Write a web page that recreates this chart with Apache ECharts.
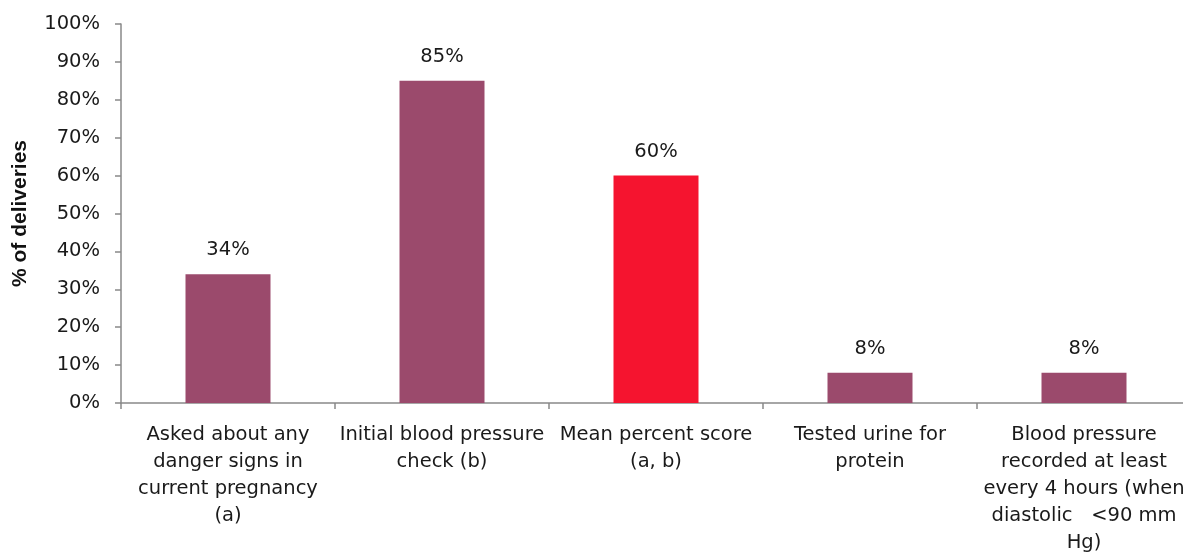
<!DOCTYPE html>
<html><head><meta charset="utf-8">
<script src="https://cdn.jsdelivr.net/npm/echarts@6/dist/echarts.min.js"></script>
<style>html,body{margin:0;padding:0;background:#fff}#c{width:1183px;height:553px}</style>
</head><body><div id="c"></div>
<script>
const categories = [
  "Asked about any\ndanger signs in\ncurrent pregnancy\n(a)",
  "Initial blood pressure\ncheck (b)",
  "Mean percent score\n(a, b)",
  "Tested urine for\nprotein",
  "Blood pressure\nrecorded at least\nevery 4 hours (when\ndiastolic   <90 mm\nHg)"
];
const values = [34, 85, 60, 8, 8];
const highlightIndex = 2;
const yTitle = "% of deliveries";

const font = "DejaVu Sans";
const chart = echarts.init(document.getElementById('c'));
chart.setOption({
  animation: false,
  grid: { left: 121, top: 24, bottom: 150, width: 1070, containLabel: false, outerBoundsMode: 'none' },
  xAxis: {
    type: 'category', data: categories,
    axisLine: { lineStyle: { color: '#898989', width: 1.5 } },
    axisTick: { show: true, length: 6, lineStyle: { color: '#898989', width: 1.5 } },
    axisLabel: { interval: 0, color: '#1a1a1a', fontFamily: font, fontSize: 19.5, lineHeight: 27, margin: 18 }
  },
  yAxis: {
    type: 'value', min: 0, max: 100, interval: 10,
    name: yTitle, nameLocation: 'middle', nameGap: 90, nameRotate: 90,
    nameTextStyle: { color: '#111', fontFamily: "Liberation Sans", fontSize: 21, fontWeight: 'bold' },
    axisLine: { show: true, lineStyle: { color: '#898989', width: 1.5 } },
    axisTick: { show: true, length: 6, lineStyle: { color: '#898989', width: 1.5 } },
    splitLine: { show: false },
    axisLabel: { formatter: '{value}%', color: '#1a1a1a', fontFamily: font, fontSize: 19.5, margin: 21 }
  },
  series: [{
    type: 'bar', barWidth: 85,
    data: values.map((v, i) => ({ value: v, itemStyle: { color: i === highlightIndex ? '#F5142F' : '#9B4A6C' } })),
    label: { show: true, position: 'top', distance: 14, formatter: '{c}%', color: '#1a1a1a', fontFamily: font, fontSize: 19.5 }
  }]
});
</script></body></html>
